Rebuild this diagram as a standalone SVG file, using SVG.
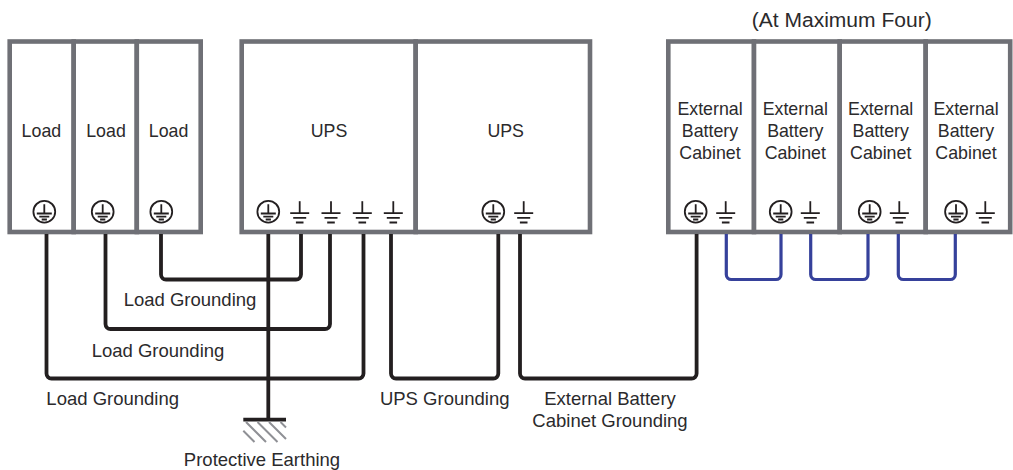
<svg xmlns="http://www.w3.org/2000/svg" width="1013" height="470" viewBox="0 0 1013 470">
<style>
text{font-family:"Liberation Sans",Arial,sans-serif;font-size:17.8px;fill:#2b2a2c;text-anchor:middle}
.l{font-size:18.5px}
.box{fill:#fff;stroke:#6f7076;stroke-width:4.6}
.k{fill:none;stroke:#231f20;stroke-width:3.8;stroke-linejoin:round}
.b{fill:none;stroke:#36419b;stroke-width:3.2}
.s{fill:none;stroke:#231f20;stroke-width:1.8}
.h{stroke:#8f9095;stroke-width:2}
</style>
<defs>
<g id="pe"><circle cx="0" cy="0" r="10.9" class="s"/><path class="s" d="M0-7.5V1.5M-7.5 1.8H7.5M-5 5H5M-2.6 7.8H2.6"/></g>
<g id="gnd"><path class="s" d="M0-10.5V2"/><path class="s" d="M-9.5 1.5H9.5M-6.5 6.2H6.5M-3.8 10.8H3.8"/></g>
</defs>
<g id="load-1"><rect class="box" x="9.7" y="41.5" width="64" height="190.5"/><text x="41.4" y="136.5">Load</text><use href="#pe" x="44.3" y="211.7"/></g>
<g id="load-2"><rect class="box" x="73.7" y="41.5" width="63.1" height="190.5"/><text x="106" y="136.5">Load</text><use href="#pe" x="102.7" y="211.7"/></g>
<g id="load-3"><rect class="box" x="136.8" y="41.5" width="63.9" height="190.5"/><text x="168.6" y="136.5">Load</text><use href="#pe" x="161.3" y="211.7"/></g>
<g id="ups-1"><rect class="box" x="241.7" y="41.5" width="174" height="190.5"/><text x="329" y="136.5">UPS</text><use href="#pe" x="268.3" y="211.7"/><use href="#gnd" x="299.7" y="211.7"/><use href="#gnd" x="331" y="211.7"/><use href="#gnd" x="362.3" y="211.7"/><use href="#gnd" x="393.3" y="211.7"/></g>
<g id="ups-2"><rect class="box" x="415.7" y="41.5" width="174.3" height="190.5"/><text x="505.7" y="136.5">UPS</text><use href="#pe" x="493.3" y="211.7"/><use href="#gnd" x="523.7" y="211.7"/></g>
<g id="ebc-1"><rect class="box" x="668.3" y="41.5" width="85.7" height="190.5"/><text x="710" y="115">External</text><text x="710" y="137">Battery</text><text x="710" y="159">Cabinet</text><use href="#pe" x="695.7" y="211.7"/><use href="#gnd" x="725.7" y="211.7"/></g>
<g id="ebc-2"><rect class="box" x="754" y="41.5" width="85.7" height="190.5"/><text x="795.3" y="115">External</text><text x="795.3" y="137">Battery</text><text x="795.3" y="159">Cabinet</text><use href="#pe" x="780.7" y="211.7"/><use href="#gnd" x="810.3" y="211.7"/></g>
<g id="ebc-3"><rect class="box" x="839.7" y="41.5" width="86" height="190.5"/><text x="880.7" y="115">External</text><text x="880.7" y="137">Battery</text><text x="880.7" y="159">Cabinet</text><use href="#pe" x="869.7" y="211.7"/><use href="#gnd" x="899.3" y="211.7"/></g>
<g id="ebc-4"><rect class="box" x="925.7" y="41.5" width="84.5" height="190.5"/><text x="966" y="115">External</text><text x="966" y="137">Battery</text><text x="966" y="159">Cabinet</text><use href="#pe" x="956" y="211.7"/><use href="#gnd" x="985.3" y="211.7"/></g>
<g id="connectors">
<path class="k" d="M46.5 234V373.5a5 5 0 0 0 5 5H358.5a5 5 0 0 0 5-5V234"/>
<path class="k" d="M105.5 234V324a5 5 0 0 0 5 5H325a5 5 0 0 0 5-5V234"/>
<path class="k" d="M161 234V274.5a5 5 0 0 0 5 5H296a5 5 0 0 0 5-5V234"/>
<path class="k" d="M268.3 234V419.7"/>
<path class="k" d="M243.3 419.7H286"/>
<path class="k" d="M391 234V373.5a5 5 0 0 0 5 5H493.3a5 5 0 0 0 5-5V234"/>
<path class="k" d="M520 234V373.5a5 5 0 0 0 5 5H691.6a5 5 0 0 0 5-5V234"/>
<path class="b" d="M726.3 234V274.5a5 5 0 0 0 5 5H776a5 5 0 0 0 5-5V234"/>
<path class="b" d="M810.7 234V274.5a5 5 0 0 0 5 5H863a5 5 0 0 0 5-5V234"/>
<path class="b" d="M898.3 234V274.5a5 5 0 0 0 5 5H950.3a5 5 0 0 0 5-5V234"/>
</g>
<g id="hatch" class="h"><path d="M246 422L266 442M257.5 422L277.5 442M269 422L286 439M280.5 422L286 427.5M243.3 430.8L254.5 442"/></g>
<text class="l" x="190" y="305.5">Load Grounding</text>
<text class="l" x="158" y="356.5">Load Grounding</text>
<text class="l" x="112.7" y="405">Load Grounding</text>
<text class="l" x="444.7" y="405">UPS Grounding</text>
<text class="l" x="610" y="405">External Battery</text>
<text class="l" x="610" y="427.3">Cabinet Grounding</text>
<text class="l" x="262" y="465.5">Protective Earthing</text>
<text x="841.7" y="27.3" style="font-size:20px" textLength="180" lengthAdjust="spacingAndGlyphs">(At Maximum Four)</text>
</svg>
